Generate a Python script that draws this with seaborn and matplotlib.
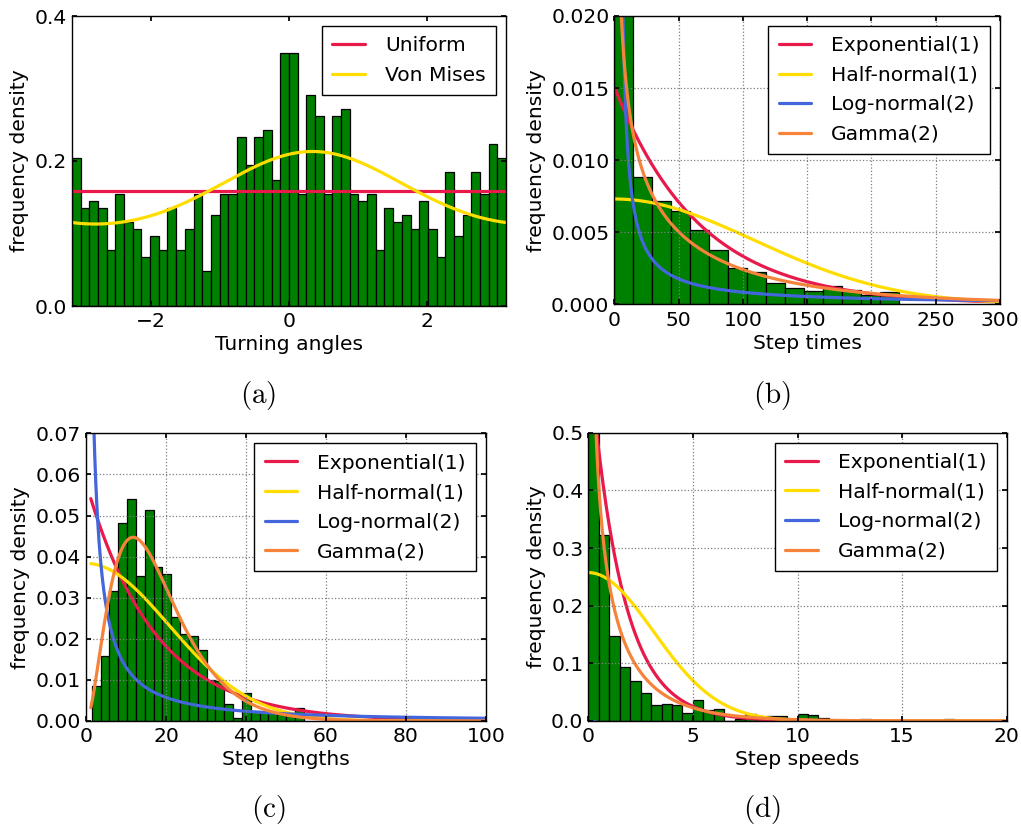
import numpy as np
import pandas as pd
import matplotlib
matplotlib.use("Agg")
import matplotlib.pyplot as plt
import seaborn as sns
from math import gamma as gamma_fn

# ---------------- data ----------------
# (a) turning angles: 50 equal bins over [-pi, pi], counts per bin
angle_counts = [21, 14, 15, 14, 8, 16, 12, 11, 7, 10, 8, 14, 8, 11, 16, 5, 13, 16, 16, 24,
                20, 24, 25, 18, 36, 36, 16, 30, 27, 16, 27, 28, 16, 15, 16, 8, 14, 12, 13, 11,
                15, 11, 7, 19, 10, 13, 19, 16, 23, 21]
vonmises_mu = 0.34
vonmises_kappa = 0.317

# (b) step times: bin width and densities
time_bin_width = 14.75
time_density = [0.0234, 0.00884, 0.00717, 0.00648, 0.00515, 0.00378, 0.00251, 0.00225,
                0.00148, 0.00116, 0.00093, 0.00125, 0.00102, 0.00063, 0.00086]
time_exp_rate = 0.0151
time_halfnorm_sigma = 109.2
time_lognorm = [3.5, 4.8, 3.0]      # mu, sigma, loc
time_gamma = [0.547, 118.5]         # shape, scale

# (c) step lengths
length_bin_start = 1.42
length_bin_width = 2.21
length_density = [0.0084, 0.0158, 0.0317, 0.0481, 0.0539, 0.0354, 0.0513, 0.0375, 0.0358,
                  0.0253, 0.0211, 0.0206, 0.0173, 0.0099, 0.0097, 0.0041, 0.0008, 0.0067,
                  0.0024, 0.0024, 0.0020, 0.0020, 0.0016, 0.0031]
length_exp_rate = 0.058
length_halfnorm_sigma = 20.8
length_lognorm = [1.15, 2.8, 0.0]
length_gamma = [2.9, 6.2]

# (d) step speeds
speed_bin_width = 0.5
speed_density = [1.08, 0.3229, 0.148, 0.0943, 0.0689, 0.048, 0.0272, 0.0295, 0.0272, 0.0133,
                 0.0364, 0.0191, 0.0205, 0.0, 0.004, 0.012, 0.003, 0.009, 0.008, 0.002,
                 0.0125, 0.010, 0.005, 0.0, 0.0, 0.0, 0.004, 0.0, 0.0, 0.0,
                 0.0, 0.0, 0.0, 0.0, 0.004, 0.0, 0.0, 0.0, 0.0, 0.0]
speed_exp_rate = 0.65
speed_halfnorm_sigma = 3.1
speed_lognorm = [12.0, 1.0, 0.0]
speed_lognorm_range = [0.005, 0.3]
speed_gamma = [0.5, 2.6]

x_labels = ["Turning angles", "Step times", "Step lengths", "Step speeds"]
captions = ["(a)", "(b)", "(c)", "(d)"]
fit_labels = ["Exponential(1)", "Half-normal(1)", "Log-normal(2)", "Gamma(2)"]

# ---------------- style ----------------
RED, YEL, BLU, ORA = "#E8194B", "#FFDD00", "#4466DD", "#F5843A"
GREEN = "#008000"

sns.set_theme(style="white", rc={
    "xtick.direction": "in", "ytick.direction": "in",
    "xtick.top": True, "ytick.right": True,
    "xtick.bottom": True, "ytick.left": True,
    "xtick.major.size": 3.5, "ytick.major.size": 3.5,
    "xtick.major.pad": 4.5, "ytick.major.pad": 3.5,
    "axes.edgecolor": "black", "axes.linewidth": 1.0,
    "xtick.color": "black", "ytick.color": "black",
    "text.color": "black", "axes.labelcolor": "black",
})
plt.rcParams["font.family"] = ["DejaVu Sans"]
FS = 14.6

W, H = 1021, 831
fig = plt.figure(figsize=(W / 100, H / 100), dpi=100)


def add_ax(l, r, t, b):
    return fig.add_axes([l / W, 1 - b / H, (r - l) / W, (b - t) / H])


def lognorm_pdf(x, mu, sigma, loc):
    z = x - loc
    out = np.full_like(x, np.nan, dtype=float)
    m = z > 0
    out[m] = np.exp(-(np.log(z[m]) - mu) ** 2 / (2 * sigma ** 2)) / (z[m] * sigma * np.sqrt(2 * np.pi))
    return out


def gamma_pdf(x, k, theta):
    return x ** (k - 1) * np.exp(-x / theta) / (gamma_fn(k) * theta ** k)


def halfnorm_pdf(x, s):
    return np.sqrt(2 / np.pi) / s * np.exp(-x ** 2 / (2 * s ** 2))


def exp_pdf(x, lam):
    return lam * np.exp(-lam * x)


def hist(ax, edges, heights, stat="count"):
    edges = np.asarray(edges, dtype=float)
    centers = (edges[:-1] + edges[1:]) / 2
    df = pd.DataFrame({"x": centers, "w": np.asarray(heights, dtype=float)})
    sns.histplot(data=df, x="x", weights="w", bins=list(edges), stat=stat, ax=ax,
                 color=GREEN, edgecolor="black", linewidth=0.9, alpha=1, legend=False)


def line(ax, x, y, color, label):
    df = pd.DataFrame({"x": np.asarray(x, dtype=float), "y": np.asarray(y, dtype=float)})
    sns.lineplot(data=df, x="x", y="y", ax=ax, color=color, linewidth=2.3, label=label,
                 sort=False, estimator=None)


def style(ax, xlabel, xlim, ylim, xticks, yticks, grid=True):
    ax.set_xlim(*xlim)
    ax.set_ylim(*ylim)
    ax.set_xticks(xticks)
    ax.set_yticks(yticks)
    ax.tick_params(labelsize=FS)
    ax.set_xlabel(xlabel, fontsize=FS, labelpad=3)
    ax.set_ylabel("frequency density", fontsize=FS, labelpad=4)
    if grid:
        ax.grid(True, color="#7f7f7f", linestyle=":", linewidth=0.9)
    else:
        ax.grid(False)
    ax.set_axisbelow(False)
    for sp in ax.spines.values():
        sp.set_color("black")
        sp.set_linewidth(1.0)
        sp.set_zorder(3)
    leg = ax.legend(loc="upper right", fontsize=FS, frameon=True, fancybox=False,
                    edgecolor="black", framealpha=1, handlelength=1.6, handletextpad=1.0,
                    borderaxespad=0.5, labelspacing=0.52, borderpad=0.5)
    leg.get_frame().set_linewidth(1.0)


# ---------------- (a) ----------------
ax = add_ax(72, 506, 16, 306)
a_edges = np.linspace(-np.pi, np.pi, len(angle_counts) + 1)
hist(ax, a_edges, angle_counts, stat="density")
xa = np.linspace(-np.pi, np.pi, 400)
line(ax, [-np.pi, np.pi], np.array([1, 1]) / (2 * np.pi), RED, "Uniform")
line(ax, xa, np.exp(vonmises_kappa * np.cos(xa - vonmises_mu)) / (2 * np.pi * np.i0(vonmises_kappa)),
     YEL, "Von Mises")
style(ax, x_labels[0], (-np.pi, np.pi), (0, 0.4), [-2, 0, 2], [0.0, 0.2, 0.4], grid=False)
ax.yaxis.set_major_formatter(matplotlib.ticker.FormatStrFormatter("%.1f"))

# ---------------- (b) ----------------
ax = add_ax(614.3, 1000, 16, 304.3)
b_edges = np.arange(len(time_density) + 1) * time_bin_width
hist(ax, b_edges, time_density)
xb = np.linspace(0.5, 300, 800)
line(ax, xb, exp_pdf(xb, time_exp_rate), RED, fit_labels[0])
line(ax, xb, halfnorm_pdf(xb, time_halfnorm_sigma), YEL, fit_labels[1])
line(ax, xb, lognorm_pdf(xb, *time_lognorm), BLU, fit_labels[2])
line(ax, xb, gamma_pdf(xb, *time_gamma), ORA, fit_labels[3])
style(ax, x_labels[1], (0, 300), (0, 0.02), np.arange(0, 301, 50),
      np.arange(0, 0.0201, 0.005))
ax.yaxis.set_major_formatter(matplotlib.ticker.FormatStrFormatter("%.3f"))

# ---------------- (c) ----------------
ax = add_ax(86, 486, 433.3, 721)
c_edges = length_bin_start + np.arange(len(length_density) + 1) * length_bin_width
hist(ax, c_edges, length_density)
xc = np.linspace(1.2, 100, 800)
line(ax, xc, exp_pdf(xc, length_exp_rate), RED, fit_labels[0])
line(ax, xc, halfnorm_pdf(xc, length_halfnorm_sigma), YEL, fit_labels[1])
line(ax, xc, lognorm_pdf(xc, *length_lognorm), BLU, fit_labels[2])
line(ax, xc, gamma_pdf(xc, *length_gamma), ORA, fit_labels[3])
style(ax, x_labels[2], (0, 100), (0, 0.07), np.arange(0, 101, 20),
      np.arange(0, 0.0701, 0.01))
ax.yaxis.set_major_formatter(matplotlib.ticker.FormatStrFormatter("%.2f"))

# ---------------- (d) ----------------
ax = add_ax(588.3, 1006.7, 432.7, 721)
d_edges = np.arange(len(speed_density) + 1) * speed_bin_width
hist(ax, d_edges, speed_density)
xd = np.linspace(0.01, 20, 1000)
xd_ln = np.linspace(*speed_lognorm_range, 20)
line(ax, xd, exp_pdf(xd, speed_exp_rate), RED, fit_labels[0])
line(ax, xd, halfnorm_pdf(xd, speed_halfnorm_sigma), YEL, fit_labels[1])
line(ax, xd_ln, np.nan_to_num(lognorm_pdf(xd_ln, *speed_lognorm)), BLU, fit_labels[2])
line(ax, xd, gamma_pdf(xd, *speed_gamma), ORA, fit_labels[3])
style(ax, x_labels[3], (0, 20), (0, 0.5), np.arange(0, 21, 5),
      np.arange(0, 0.501, 0.1))
ax.yaxis.set_major_formatter(matplotlib.ticker.FormatStrFormatter("%.1f"))

# ---------------- captions ----------------
cap_pos = [(258, 395), (772, 395), (268, 810), (762, 810)]
for cap, (cx, cy) in zip(captions, cap_pos):
    fig.text(cx / W, 1 - cy / H, r"$\mathrm{" + cap + "}$", fontsize=21,
             math_fontfamily="cm", ha="center", va="center")

fig.savefig("out.png", dpi=100)
